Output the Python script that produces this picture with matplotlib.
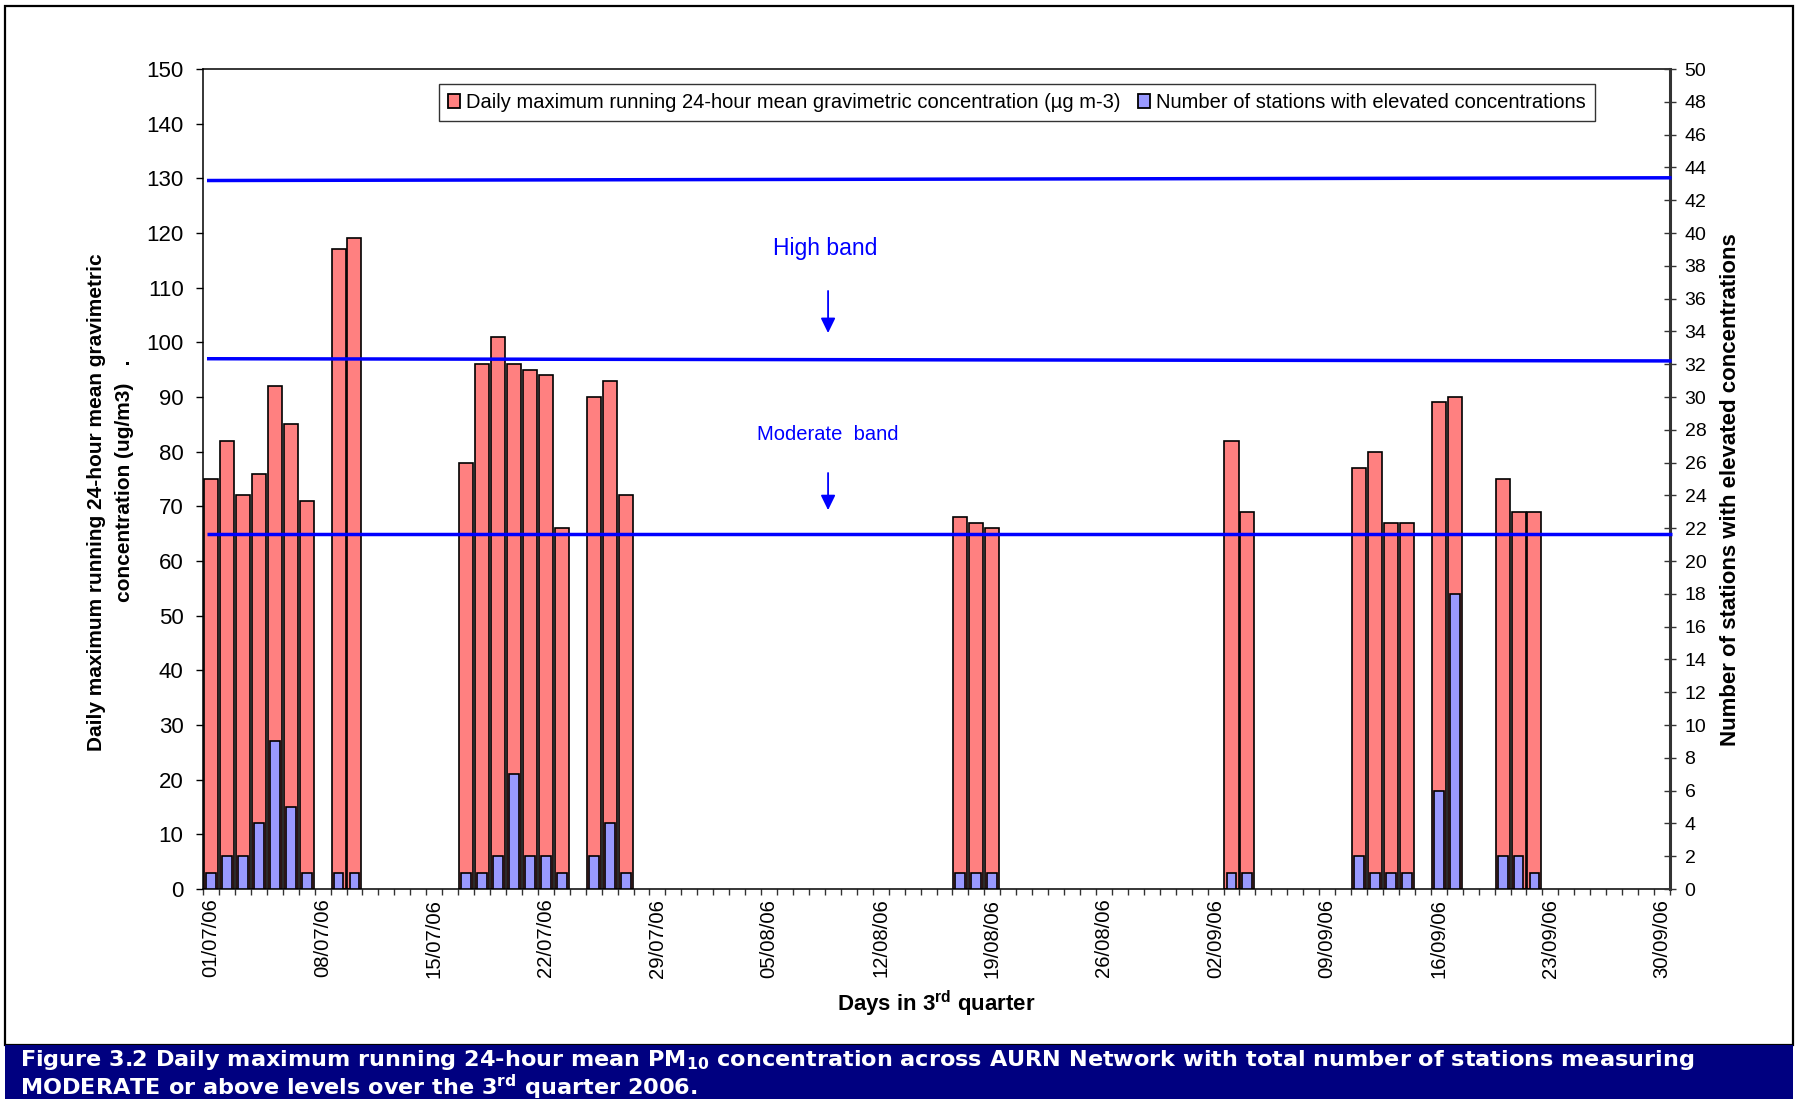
import matplotlib
matplotlib.use("Agg")
import matplotlib.pyplot as plt
from matplotlib.patches import Patch, Rectangle
import pandas as pd

plt.rcParams['font.family'] = ['Liberation Sans', 'DejaVu Sans']
plt.rcParams['mathtext.fontset'] = 'custom'
plt.rcParams['mathtext.rm'] = 'Liberation Sans'
plt.rcParams['mathtext.bf'] = 'Liberation Sans:bold'
plt.rcParams['mathtext.sf'] = 'DejaVu Sans:bold'

# ---------------- data ----------------
all_days = list(pd.date_range("2006-07-01", "2006-09-30", freq="D").strftime("%d/%m/%y"))
tick_days = all_days[::7]

bar_days = ["01/07/06", "02/07/06", "03/07/06", "04/07/06", "05/07/06", "06/07/06", "07/07/06",
            "09/07/06", "10/07/06",
            "17/07/06", "18/07/06", "19/07/06", "20/07/06", "21/07/06", "22/07/06", "23/07/06",
            "25/07/06", "26/07/06", "27/07/06",
            "17/08/06", "18/08/06", "19/08/06",
            "03/09/06", "04/09/06",
            "11/09/06", "12/09/06", "13/09/06", "14/09/06",
            "16/09/06", "17/09/06",
            "20/09/06", "21/09/06", "22/09/06"]
concentration = [75, 82, 72, 76, 92, 85, 71,
                 117, 119,
                 78, 96, 101, 96, 95, 94, 66,
                 90, 93, 72,
                 68, 67, 66,
                 82, 69,
                 77, 80, 67, 67,
                 89, 90,
                 75, 69, 69]
stations = [1, 2, 2, 4, 9, 5, 1,
            1, 1,
            1, 1, 2, 7, 2, 2, 1,
            2, 4, 1,
            1, 1, 1,
            1, 1,
            2, 1, 1, 1,
            6, 18,
            2, 2, 1]

# band lines (left-axis units, at left end and right end)
band_left = [129.6, 97.0, 64.9]
band_right = [130.1, 96.6, 64.9]

legend_labels = ["Daily maximum running 24-hour mean gravimetric concentration (\u00b5g m-3)",
                 "Number of stations with elevated concentrations"]

PINK = "#FF8080"
LBLUE = "#9999FF"
NAVY = "#000080"

W, H = 1798, 1099
fig = plt.figure(figsize=(W / 100, H / 100), dpi=100)

def fx(px):
    return px / W

def fy(py):
    return 1 - py / H

# outer frame and caption bar
fig.add_artist(Rectangle((fx(5), fy(1045)), fx(1793) - fx(5), fy(6) - fy(1045),
                         transform=fig.transFigure, fill=False, edgecolor="black", lw=1.6))
fig.add_artist(Rectangle((fx(5), 0), fx(1793) - fx(5), fy(1045),
                         transform=fig.transFigure, facecolor=NAVY, edgecolor=NAVY, lw=0))

ax = fig.add_axes([fx(203), fy(889), fx(1670) - fx(203), fy(69) - fy(889)])
ax2 = ax.twinx()

x_idx = [all_days.index(d) for d in bar_days]
ax.bar(x_idx, concentration, width=0.88, color=PINK, edgecolor="black", linewidth=1.2, zorder=2)
ax2.bar(x_idx, stations, width=0.62, color=LBLUE, edgecolor="black", linewidth=1.2, zorder=2)

n = len(all_days)
ax.set_xlim(-0.5, n - 0.5)
ax.set_ylim(0, 150)
ax2.set_ylim(0, 50)

# band lines
for yl, yr in zip(band_left, band_right):
    ax2.plot([-0.25, n - 0.4], [yl, yr], color="#0000FF", lw=2.5, transform=ax.transData,
             clip_on=False, zorder=3, solid_capstyle="butt")

# annotations
ax2.text(38.5, 117.1, "High band", color="#0000FF", fontsize=16.5, ha="center", va="center",
         transform=ax.transData)
ax2.annotate("", xy=(38.7, 101.7), xytext=(38.7, 109.4), xycoords=ax.transData, textcoords=ax.transData,
             arrowprops=dict(arrowstyle="-|>,head_length=0.45,head_width=0.22", color="#0000FF",
                             lw=1.3, mutation_scale=20, shrinkA=0, shrinkB=0))
ax2.text(38.7, 83.2, "Moderate  band", color="#0000FF", fontsize=14.5, ha="center", va="center",
         transform=ax.transData)
ax2.annotate("", xy=(38.7, 69.3), xytext=(38.7, 76.1), xycoords=ax.transData, textcoords=ax.transData,
             arrowprops=dict(arrowstyle="-|>,head_length=0.45,head_width=0.22", color="#0000FF",
                             lw=1.3, mutation_scale=20, shrinkA=0, shrinkB=0))

# x axis ticks
tick_pos = [all_days.index(d) for d in tick_days]
ax.set_xticks(tick_pos)
ax.set_xticklabels(tick_days, rotation=90, fontsize=14.6)
ax.set_xticks([i - 0.5 for i in range(n + 1)], minor=True)
ax.tick_params(axis="x", which="major", length=0, pad=7)
ax.tick_params(axis="x", which="minor", length=4, width=1, direction="out", color="#333333")

# left y
ax.set_yticks(range(0, 151, 10))
ax.tick_params(axis="y", which="major", labelsize=16, length=5, width=1, direction="out", pad=9)

# right y
ax2.set_yticks(range(0, 51, 2))
ax2.tick_params(axis="y", which="major", labelsize=14, length=9, width=1, direction="inout",
                pad=6, color="#333333")

for sp in ["left", "bottom", "top"]:
    ax.spines[sp].set_linewidth(1.1)
    ax.spines[sp].set_color("black")
ax.spines["right"].set_visible(False)
for sp in ["left", "bottom", "top"]:
    ax2.spines[sp].set_visible(False)
ax2.spines["right"].set_linewidth(2.2)
ax2.spines["right"].set_color("#333333")

# axis labels
fig.text(fx(97), fy(502), "Daily maximum running 24-hour mean gravimetric", rotation=90,
         fontsize=15, fontweight="bold", ha="center", va="center")
fig.text(fx(125), fy(481), "concentration (ug/m3)   .", rotation=90,
         fontsize=15, fontweight="bold", ha="center", va="center")
fig.text(fx(1731), fy(490), "Number of stations with elevated concentrations", rotation=90,
         fontsize=16, fontweight="bold", ha="center", va="center")
fig.text(fx(936), fy(1004), r"Days in 3$^{\mathbf{rd}}$ quarter", fontsize=16, fontweight="bold",
         ha="center", va="center")

# legend
handles = [Patch(facecolor=PINK, edgecolor="black", lw=1.3),
           Patch(facecolor=LBLUE, edgecolor="black", lw=1.3)]
leg = ax2.legend(handles, legend_labels, loc="upper left",
                 bbox_to_anchor=(fx(439), fy(84)), bbox_transform=fig.transFigure,
                 ncol=2, fontsize=14.5, frameon=True, fancybox=False, shadow=False,
                 borderaxespad=0, borderpad=0.45, handlelength=0.6, handleheight=0.75,
                 handletextpad=0.3, columnspacing=0.85)
leg.get_frame().set_edgecolor("black")
leg.get_frame().set_linewidth(1.0)

# caption
fig.text(fx(20), fy(1060),
         r"Figure 3.2 Daily maximum running 24-hour mean PM$_{\mathsf{10}}$ concentration across AURN Network with total number of stations measuring",
         color="white", fontsize=16.1, fontweight="bold", family="DejaVu Sans", ha="left", va="center")
fig.text(fx(20), fy(1087),
         r"MODERATE or above levels over the 3$^{\mathsf{rd}}$ quarter 2006.",
         color="white", fontsize=16.1, fontweight="bold", family="DejaVu Sans", ha="left", va="center")

fig.savefig("out.png", dpi=100)
